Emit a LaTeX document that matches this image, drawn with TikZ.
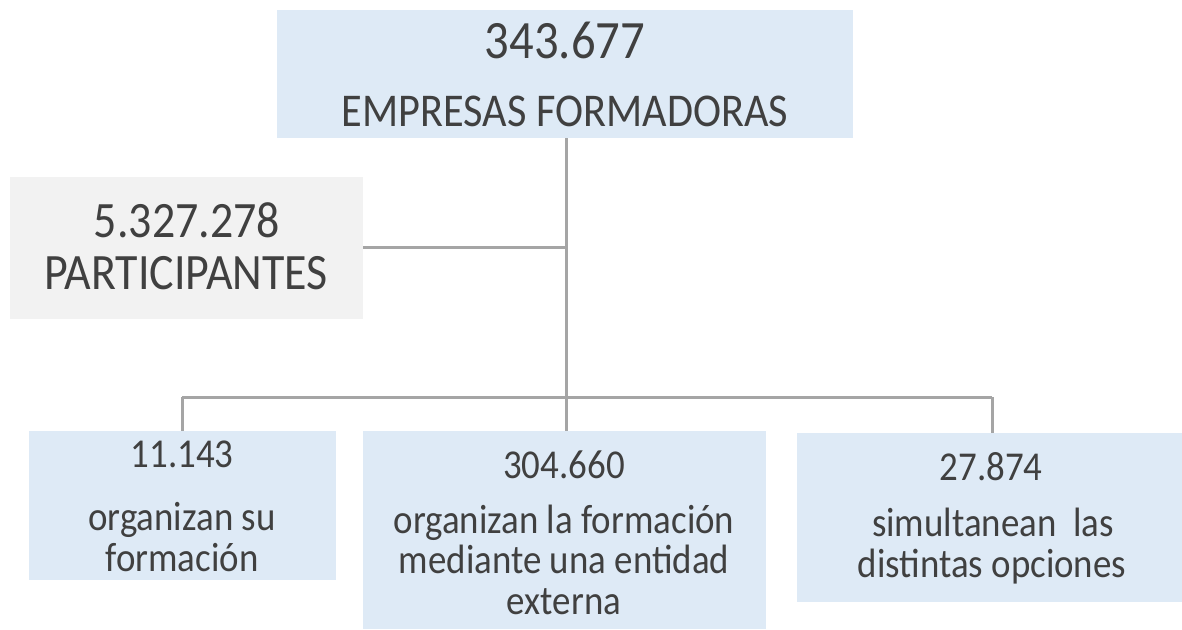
\documentclass[tikz,border=0pt]{standalone}
\usepackage{fontspec}
\setmainfont{Carlito}
\usepackage{graphicx}
\definecolor{boxblue}{HTML}{DEEAF6}
\definecolor{boxgray}{HTML}{F2F2F2}
\definecolor{linegray}{HTML}{A5A5A5}
\definecolor{txt}{HTML}{404040}
\newcommand{\nx}[1]{\scalebox{0.9}[1]{#1}}
\tikzset{
  bluebox/.style={fill=boxblue, draw=none, inner sep=0, rectangle},
  graybox/.style={fill=boxgray, draw=none, inner sep=0, rectangle},
  lbl/.style={inner sep=0, anchor=base, text=txt},
  conn/.style={draw=linegray, line width=3pt},
}
\begin{document}
\begin{tikzpicture}[x=1pt,y=-1pt]
\useasboundingbox (0,0) rectangle (1182,629);
% boxes
\node[bluebox, minimum width=576pt, minimum height=128pt] (top) at (565,74) {};
\node[graybox, minimum width=353pt, minimum height=142pt] (left) at (186.5,248) {};
\node[bluebox, minimum width=307pt, minimum height=149pt] (b1) at (182.5,505.5) {};
\node[bluebox, minimum width=403pt, minimum height=198pt] (b2) at (564.5,530) {};
\node[bluebox, minimum width=385pt, minimum height=169pt] (b3) at (989.5,517.5) {};
% junctions
\coordinate (jl) at (566,247);
\coordinate (jb) at (566,397);
\coordinate (j1) at (182,397);
\coordinate (j3) at (992,397);
% connectors
\draw[conn] (top.south -| jb) -- (b2.north -| jb);
\draw[conn] (left.east |- jl) -- (jl);
\draw[conn] (j1) -- (j3);
\draw[conn] (j1) -- (b1.north -| j1);
\draw[conn] (j3) -- (b3.north -| j3);
% texts
\node[lbl, font=\fontsize{54}{54}\selectfont] (tn) at (565,58) {\nx{343.677}};
\node[lbl, font=\fontsize{47}{47}\selectfont] (tt) at (565,126) {\nx{EMPRESAS FORMADORAS}};
\node[lbl, font=\fontsize{51}{51}\selectfont] (ln) at (187,237) {\nx{5.327.278}};
\node[lbl, font=\fontsize{51}{51}\selectfont] (lt) at (186,289) {\nx{PARTICIPANTES}};
\begin{scope}[font=\fontsize{41}{41}\selectfont]
\node[lbl] (n1) at (182,467) {\nx{11.143}};
\node[lbl] (t1a) at (182,530) {\nx{organizan su}};
\node[lbl] (t1b) at (182,571) {\nx{formación}};
\node[lbl] (n2) at (564,478) {\nx{304.660}};
\node[lbl] (t2a) at (564,533) {\nx{organizan la formación}};
\node[lbl] (t2b) at (564,573) {\nx{mediante una entidad}};
\node[lbl] (t2c) at (564,614) {\nx{externa}};
\node[lbl] (n3) at (991,480) {\nx{27.874}};
\node[lbl] (t3a) at (993,536) {\nx{simultanean\ \ las}};
\node[lbl] (t3b) at (992,577) {\nx{distintas opciones}};
\end{scope}
\end{tikzpicture}
\end{document}
